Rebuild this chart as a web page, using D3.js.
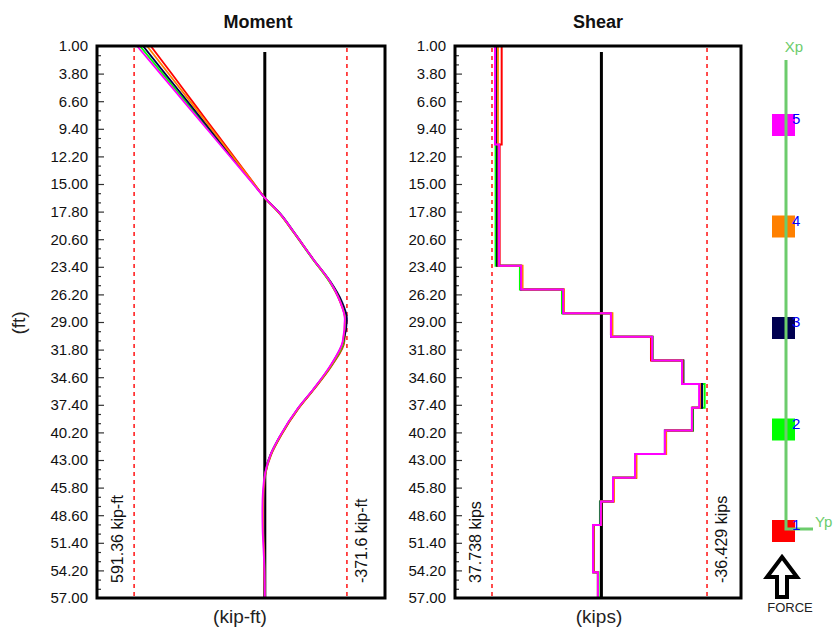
<!DOCTYPE html>
<html><head><meta charset="utf-8">
<script src="https://cdn.jsdelivr.net/npm/d3@7"></script>
<style>body{margin:0;background:#fff} text{font-family:Arial,"Liberation Sans",sans-serif}</style>
</head><body><svg id="c" width="836" height="635"></svg>
<script>
// ---------- data ----------
const depthTicks = [1.00,3.80,6.60,9.40,12.20,15.00,17.80,20.60,23.40,26.20,29.00,31.80,34.60,37.40,40.20,43.00,45.80,48.60,51.40,54.20,57.00];
const seriesNames = ["1","2","3","4","5"];
const seriesColors = ["#ff0000","#00ff00","#000050","#ff8000","#ff00ff"];

const momentDepth = [1,4,7,10,13,15,16.4,18,20,22.6,24.9,26.9,28.7,31,33.3,35.8,37.8,40.5,42.5,44.3,46,48,50,52,54,57];
const moment1 = [516,415,315,214,114,47,0,-67,-133,-217,-293,-340,-364,-360,-307,-224,-152,-74,-28,-4,3,5,5,3,1,0];
const moment2 = [565,455,345,235,125,51,0,-68,-134,-216,-292,-342,-366,-358,-305,-222,-150,-72,-26,-3,4,6,5,3,1,0];
const moment3 = [551,444,336,229,122,50,0,-70,-136,-219,-297,-348,-371.6,-355,-302,-221,-149,-71,-25,-1,2,3,3,2,1,0];
const moment4 = [533,429,325,221,118,48,0,-68,-135,-218,-294,-341,-363,-354,-303,-222,-150,-72,-26,-2,5,7,7,4,2,0];
const moment5 = [578,465,353,240,128,53,0,-69,-135,-218,-295,-340,-362,-352,-300,-220,-148,-70,-25,-2,8,11,10,6,2,0];
const momentMax = 591.36, momentMin = -371.6;

const shearBreaks = [1,11,23.3,25.7,28.1,30.5,32.9,35.3,37.7,40.0,42.4,44.8,47.2,49.6,54.4,57];
const shear1 = [34.4,35.1,27.6,13.1,-3.3,-17.1,-28.1,-34.4,-31.5,-22.3,-11.9,-4.2,0.3,2.7,1.2];
const shear2 = [36.5,36.5,28.1,13.6,-3.5,-17.6,-28.1,-35.6,-31.6,-22.1,-11.9,-4.0,0.5,2.9,1.0];
const shear3 = [36.0,36.0,27.7,13.2,-3.3,-17.6,-28.3,-34.7,-31.4,-21.9,-11.8,-4.0,0.3,2.7,1.2];
const shear4 = [35.7,35.5,27.2,12.9,-3.8,-17.5,-28.0,-34.0,-31.3,-22.3,-12.1,-4.3,0.1,2.7,1.2];
const shear5 = [36.7,35.3,27.7,13.2,-3.3,-17.5,-27.8,-33.7,-31.2,-21.9,-11.6,-4.0,0.2,2.9,1.2];
const shearMax = 37.738, shearMin = -36.429;

// ---------- drawing ----------
const svg = d3.select("#c");
const Y0 = 46, Y1 = 598;
const y = d3.scaleLinear().domain([1,57]).range([Y0,Y1]);

const panels = [
  {title:"Moment", unit:"(kip-ft)", x0:97, x1:385, domain:[759.3,-543.9], titleX:258, unitX:240,
   maxV:momentMax, minV:momentMin, maxLbl:"591.36 kip-ft", minLbl:"-371.6 kip-ft",
   series:[moment1,moment2,moment3,moment4,moment5], kind:"moment"},
  {title:"Shear", unit:"(kips)", x0:455, x1:741, domain:[50.5,-48.15], titleX:598, unitX:599,
   maxV:shearMax, minV:shearMin, maxLbl:"37.738 kips", minLbl:"-36.429 kips",
   series:[shear1,shear2,shear3,shear4,shear5], kind:"shear"}
];

const minorTicks = [];
for (let i=0;i<depthTicks.length-1;i++){
  const a=depthTicks[i], b=depthTicks[i+1];
  minorTicks.push(a+(b-a)/3, a+2*(b-a)/3);
}

panels.forEach((p,pi)=>{
  const x = d3.scaleLinear().domain(p.domain).range([p.x0,p.x1]);
  const g = svg.append("g");
  const clipId = "clip"+pi;
  svg.append("clipPath").attr("id",clipId).append("rect")
    .attr("x",p.x0).attr("y",Y0).attr("width",p.x1-p.x0).attr("height",Y1-Y0);

  g.append("text").attr("x",p.titleX).attr("y",28).attr("text-anchor","middle")
    .attr("font-size",18).attr("font-weight","bold").attr("fill","#111").text(p.title);
  g.append("text").attr("x",p.unitX).attr("y",623).attr("text-anchor","middle")
    .attr("font-size",19).attr("fill","#222").text(p.unit);

  const axL = d3.axisLeft(y).tickValues(depthTicks).tickFormat(d3.format(".2f")).tickSize(0).tickPadding(9);
  const ga = g.append("g").attr("transform",`translate(${p.x0},0)`).call(axL);
  ga.select(".domain").remove();
  ga.selectAll("text").attr("font-size",15).attr("fill","#111").attr("font-family","Arial, 'Liberation Sans', sans-serif");

  const axMaj = d3.axisRight(y).tickValues(depthTicks.slice(1,-1)).tickSize(7).tickFormat("");
  const gM = g.append("g").attr("transform",`translate(${p.x0},0)`).call(axMaj);
  gM.select(".domain").remove();
  gM.selectAll("line").attr("stroke","#333").attr("stroke-width",1.2);
  const axMin = d3.axisRight(y).tickValues(minorTicks).tickSize(4).tickFormat("");
  const gm = g.append("g").attr("transform",`translate(${p.x0},0)`).call(axMin);
  gm.select(".domain").remove();
  gm.selectAll("line").attr("stroke","#333").attr("stroke-width",1.2);

  [p.maxV,p.minV].forEach(v=>{
    g.append("line").attr("x1",x(v)).attr("x2",x(v)).attr("y1",Y0+2).attr("y2",Y1)
      .attr("stroke","#ff2020").attr("stroke-width",1.6).attr("stroke-dasharray","4,4");
  });
  g.append("text").attr("transform",`translate(${x(p.maxV)-15},583) rotate(-90)`)
    .attr("dominant-baseline","middle").attr("font-size",16).attr("fill","#111").text(p.maxLbl);
  g.append("text").attr("transform",`translate(${x(p.minV)+16},583) rotate(-90)`)
    .attr("dominant-baseline","middle").attr("font-size",16).attr("fill","#111").text(p.minLbl);

  g.append("line").attr("x1",x(0)).attr("x2",x(0)).attr("y1",Y0+6).attr("y2",Y1)
    .attr("stroke","#000").attr("stroke-width",3);

  const sg = g.append("g").attr("clip-path",`url(#${clipId})`);
  p.series.forEach((vals,si)=>{
    let pts, line;
    if (p.kind==="moment"){
      pts = momentDepth.map((d,i)=>[vals[i],d]);
      line = d3.line().x(d=>x(d[0])).y(d=>y(d[1])).curve(d3.curveMonotoneY);
    } else {
      pts = vals.map((v,i)=>[v,shearBreaks[i]]);
      pts.push([vals[vals.length-1], shearBreaks[shearBreaks.length-1]]);
      line = d3.line().x(d=>x(d[0])).y(d=>y(d[1])).curve(d3.curveStepBefore);
    }
    sg.append("path").attr("d",line(pts)).attr("fill","none")
      .attr("stroke",seriesColors[si]).attr("stroke-width",p.kind==="moment"?1.8:2);
  });

  g.append("rect").attr("x",p.x0).attr("y",Y0).attr("width",p.x1-p.x0).attr("height",Y1-Y0)
    .attr("fill","none").attr("stroke","#000").attr("stroke-width",3);
});

svg.append("text").attr("transform","translate(20,323) rotate(-90)").attr("text-anchor","middle")
  .attr("dominant-baseline","middle").attr("font-size",19).attr("fill","#222").text("(ft)");

// ---------- pile diagram ----------
const pileOrder = ["5","4","3","2","1"];
const py = d3.scalePoint().domain(pileOrder).range([125,531]);
const PX = 783;
const pg = svg.append("g");
seriesNames.forEach((n,i)=>{
  pg.append("rect").attr("x",PX-11).attr("y",py(n)-11).attr("width",23).attr("height",22)
    .attr("fill",seriesColors[i]);
});
pg.append("path").attr("d",`M${PX+3},60 V${py("1")-2} H813`).attr("fill","none")
  .attr("stroke","#6ccc6c").attr("stroke-width",3);
seriesNames.forEach(n=>{
  pg.append("text").attr("x",PX+9).attr("y",py(n)-1).attr("font-size",15)
    .attr("fill","#0000ff").text(n);
});
pg.append("text").attr("x",794).attr("y",52).attr("text-anchor","middle").attr("font-size",15)
  .attr("fill","#6ccc6c").text("Xp");
pg.append("text").attr("x",815).attr("y",527).attr("font-size",15)
  .attr("fill","#6ccc6c").text("Yp");
const ax = 782, at = 557, ah = 577, ab = 597, hw = 15, sw = 5;
pg.append("path").attr("d",`M${ax},${at} L${ax+hw},${ah} L${ax+sw},${ah} L${ax+sw},${ab} L${ax-sw},${ab} L${ax-sw},${ah} L${ax-hw},${ah} Z`)
  .attr("fill","#fff").attr("stroke","#000").attr("stroke-width",4).attr("stroke-linejoin","miter");
pg.append("text").attr("x",790).attr("y",612).attr("text-anchor","middle").attr("font-size",13)
  .attr("fill","#222").text("FORCE");
</script></body></html>
